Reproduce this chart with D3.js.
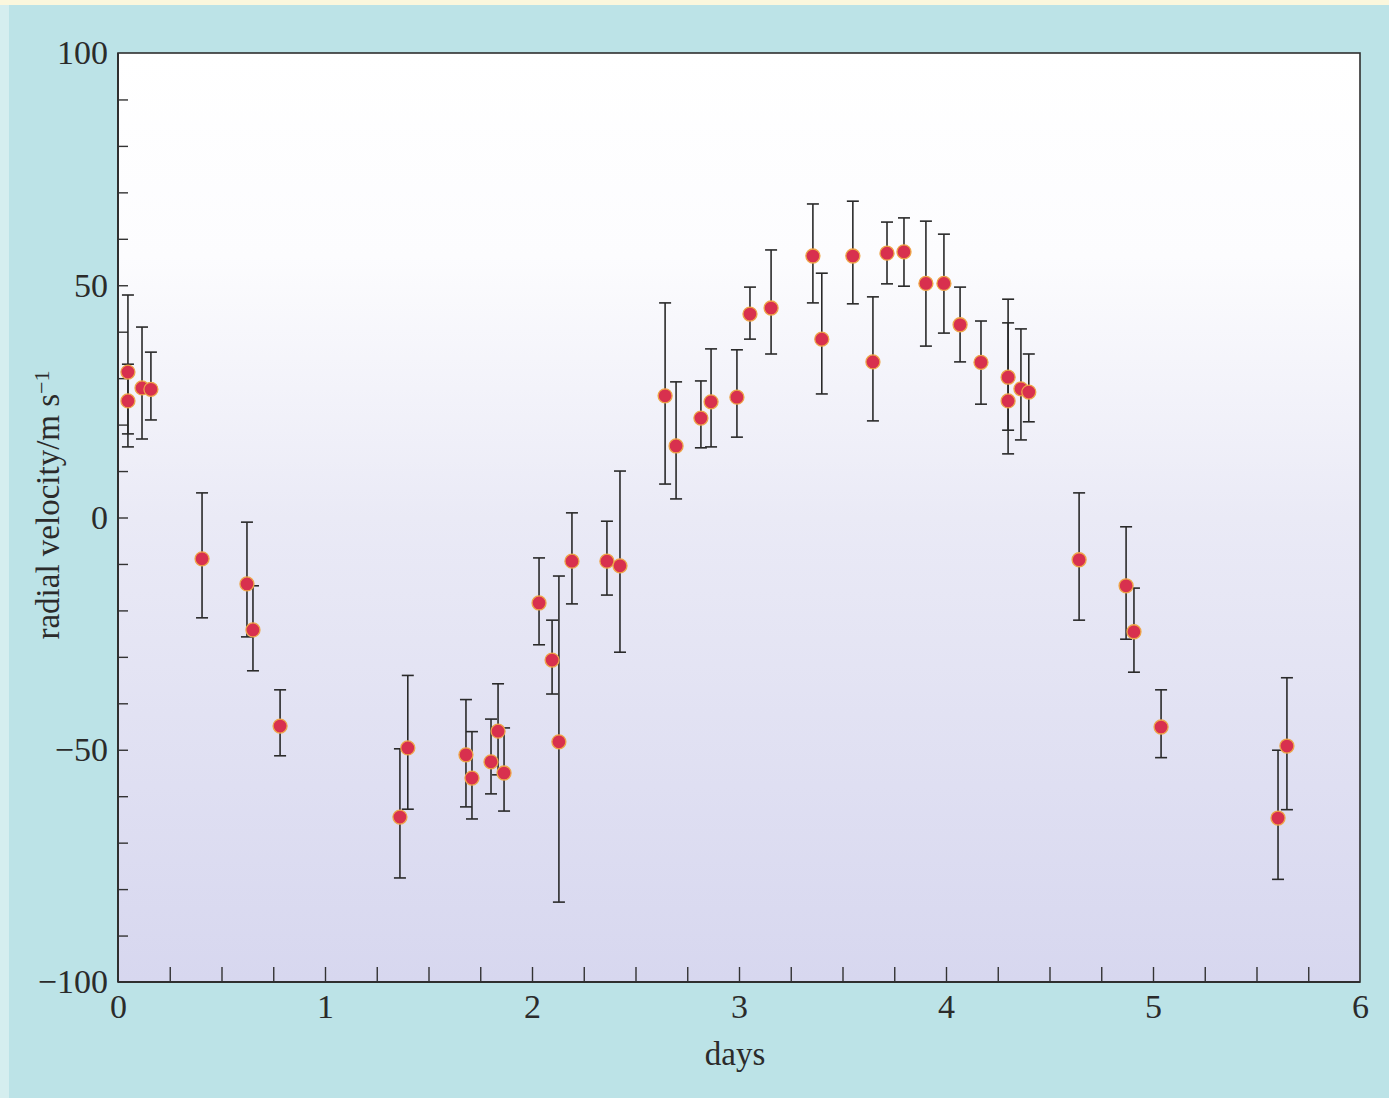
<!DOCTYPE html>
<html>
<head>
<meta charset="utf-8">
<script src="https://cdn.jsdelivr.net/npm/d3@7"></script>
<style>
  html, body { margin: 0; padding: 0; background: #bce3e7; }
  svg { display: block; }
</style>
</head>
<body>
<div id="chart"></div>
<script>
// time of each measurement (days)
var days = [0.048, 0.048, 0.116, 0.159, 0.406, 0.623, 0.652, 0.783,
  1.362, 1.400, 1.681, 1.710, 1.802, 1.836, 1.865,
  2.034, 2.097, 2.130, 2.193, 2.362, 2.425, 2.643, 2.696, 2.816, 2.865, 2.990,
  3.053, 3.155, 3.357, 3.400, 3.550, 3.647, 3.715, 3.797, 3.903, 3.990,
  4.068, 4.169, 4.300, 4.300, 4.362, 4.400, 4.643, 4.870, 4.908,
  5.039, 5.604, 5.647];

// radial velocity (m/s)
var vel = [31.3, 25.1, 27.9, 27.6, -8.9, -14.3, -24.2, -44.9,
  -64.5, -49.6, -51.1, -56.1, -52.6, -46.0, -55.0,
  -18.4, -30.7, -48.3, -9.4, -9.4, -10.4, 26.2, 15.4, 21.4, 24.9, 25.9,
  43.8, 45.1, 56.3, 38.4, 56.3, 33.5, 56.9, 57.2, 50.4, 50.4,
  41.5, 33.4, 30.2, 25.1, 27.7, 27.0, -9.1, -14.7, -24.6,
  -45.1, -64.7, -49.2];

// top and bottom of each error bar (m/s)
var velHi = [47.9, 33.0, 41.0, 35.6, 5.3, -1.0, -14.7, -37.1,
  -49.8, -34.0, -39.2, -46.1, -43.4, -35.8, -45.3,
  -8.7, -22.1, -12.6, 1.0, -0.8, 10.0, 46.2, 29.2, 29.4, 36.3, 36.1,
  49.6, 57.6, 67.5, 52.6, 68.1, 47.5, 63.6, 64.5, 63.8, 61.0,
  49.6, 42.3, 47.0, 41.9, 40.6, 35.2, 5.3, -2.0, -15.2,
  -37.1, -50.1, -34.5];

var velLo = [15.2, 18.0, 16.9, 21.0, -21.6, -25.7, -33.0, -51.3,
  -77.6, -62.8, -62.3, -64.9, -59.5, -55.4, -63.2,
  -27.4, -38.0, -82.8, -18.6, -16.7, -29.0, 7.2, 4.0, 15.0, 15.2, 17.3,
  38.4, 35.2, 46.2, 26.6, 46.0, 20.8, 50.3, 49.8, 36.9, 39.7,
  33.5, 24.4, 13.7, 18.8, 16.7, 20.6, -22.1, -26.2, -33.3,
  -51.7, -77.9, -62.9];

var yLabelTicks = [-100, -50, 0, 50, 100];
var xLabelTicks = [0, 1, 2, 3, 4, 5, 6];

var data = days.map(function(d, i) {
  return {day: d, v: vel[i], hi: velHi[i], lo: velLo[i]};
});

var W = 1389, H = 1098;
var margin = {top: 53, right: 29, bottom: 116, left: 118},
    width = W - margin.left - margin.right,
    height = H - margin.top - margin.bottom;

var svg = d3.select("#chart").append("svg")
    .attr("width", W)
    .attr("height", H);

// page background
svg.append("rect").attr("width", W).attr("height", H).attr("fill", "#bce3e7");
svg.append("rect").attr("width", 9).attr("height", H).attr("fill", "#d5eeef");
svg.append("rect").attr("width", W).attr("height", 5).attr("fill", "#fbf7dd");

var defs = svg.append("defs");
var grad = defs.append("linearGradient")
    .attr("id", "plotbg").attr("x1", 0).attr("y1", 0).attr("x2", 0).attr("y2", 1);
grad.append("stop").attr("offset", "0").attr("stop-color", "#ffffff");
grad.append("stop").attr("offset", "0.22").attr("stop-color", "#fcfcfe");
grad.append("stop").attr("offset", "0.5").attr("stop-color", "#eaeaf6");
grad.append("stop").attr("offset", "1").attr("stop-color", "#d7d7ef");

var g = svg.append("g")
    .attr("transform", "translate(" + margin.left + "," + margin.top + ")");

g.append("rect")
    .attr("width", width).attr("height", height)
    .attr("fill", "url(#plotbg)");

var x = d3.scaleLinear().domain([0, 6]).range([0, width]);
var y = d3.scaleLinear().domain([-100, 100]).range([height, 0]);

var fontFam = "'Liberation Serif', 'DejaVu Serif', serif";

// y axis: minor ticks every 10, labels every 50
var yAxis = d3.axisLeft(y)
    .tickValues(d3.range(-100, 101, 10))
    .tickSize(-10)
    .tickPadding(10)
    .tickFormat(function(d) { return yLabelTicks.indexOf(d) >= 0 ? d3.format("")(d) : ""; });

var gy = g.append("g").call(yAxis);

// x axis: minor ticks every 0.25 day, labels every day
var xAxis = d3.axisBottom(x)
    .tickValues(d3.range(0, 6.01, 0.25))
    .tickSize(-15)
    .tickPadding(12)
    .tickFormat(function(d) { return xLabelTicks.indexOf(d) >= 0 ? d3.format("")(d) : ""; });

var gx = g.append("g")
    .attr("transform", "translate(0," + height + ")")
    .call(xAxis);

[gx, gy].forEach(function(a) {
  a.select(".domain").remove();
  a.selectAll(".tick line").attr("stroke", "#333").attr("stroke-width", 1.4);
  a.selectAll(".tick text")
    .attr("fill", "#2b2b2b")
    .style("font-family", fontFam)
    .style("font-size", "34px");
});
gx.selectAll(".tick").filter(function(d) { return d === 0 || d === 6; })
  .select("line").remove();
gy.selectAll(".tick").filter(function(d) { return d === -100 || d === 100; })
  .select("line").remove();

// frame
g.append("rect")
    .attr("width", width).attr("height", height)
    .attr("fill", "none")
    .attr("stroke", "#2f2f2f")
    .attr("stroke-width", 1.6);
g.append("line").attr("x1", 0).attr("x2", 0).attr("y1", 0).attr("y2", height)
    .attr("stroke", "#2f2f2f").attr("stroke-width", 2);
g.append("line").attr("x1", 0).attr("x2", width).attr("y1", height).attr("y2", height)
    .attr("stroke", "#2f2f2f").attr("stroke-width", 2.2);

// error bars
var capW = 6;
var bars = g.append("g").attr("stroke", "#2a2a2a").attr("stroke-width", 1.6)
  .selectAll("g").data(data).enter().append("g");

bars.append("line")
    .attr("x1", function(d) { return x(d.day); })
    .attr("x2", function(d) { return x(d.day); })
    .attr("y1", function(d) { return y(d.hi); })
    .attr("y2", function(d) { return y(d.lo); });
bars.append("line")
    .attr("x1", function(d) { return x(d.day) - capW; })
    .attr("x2", function(d) { return x(d.day) + capW; })
    .attr("y1", function(d) { return y(d.hi); })
    .attr("y2", function(d) { return y(d.hi); });
bars.append("line")
    .attr("x1", function(d) { return x(d.day) - capW; })
    .attr("x2", function(d) { return x(d.day) + capW; })
    .attr("y1", function(d) { return y(d.lo); })
    .attr("y2", function(d) { return y(d.lo); });

// points
g.append("g").selectAll("circle").data(data).enter().append("circle")
    .attr("cx", function(d) { return x(d.day); })
    .attr("cy", function(d) { return y(d.v); })
    .attr("r", 7)
    .attr("fill", "#d8304e")
    .attr("stroke", "#eea548")
    .attr("stroke-width", 1.3);

// axis titles
svg.append("text")
    .attr("x", 735)
    .attr("y", 1065)
    .attr("text-anchor", "middle")
    .attr("fill", "#2b2b2b")
    .style("font-family", fontFam)
    .style("font-size", "33px")
    .text("days");

var yt = svg.append("text")
    .attr("transform", "translate(59,505) rotate(-90)")
    .attr("text-anchor", "middle")
    .attr("fill", "#2b2b2b")
    .style("font-family", fontFam)
    .style("font-size", "33px");
yt.append("tspan").text("radial velocity/m s");
yt.append("tspan").attr("dy", "-0.45em").style("font-size", "22px").text("\u22121");
</script>
</body>
</html>
